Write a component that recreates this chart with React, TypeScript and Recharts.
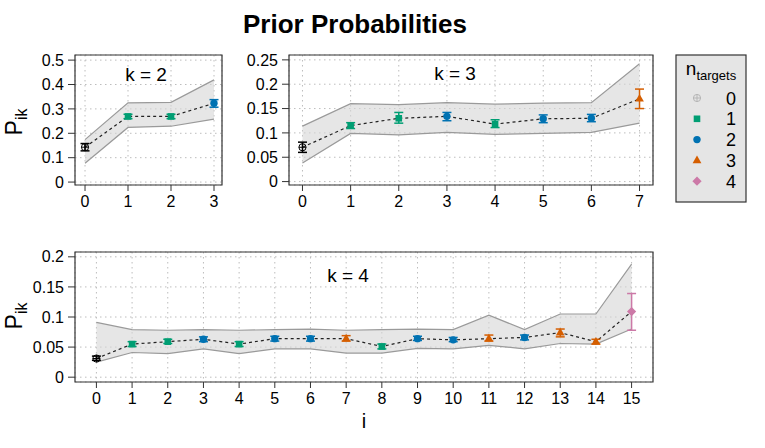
import React from "react";
import {
  ComposedChart,
  Area,
  Line,
  Scatter,
  ErrorBar,
  XAxis,
  YAxis,
  CartesianGrid,
  ReferenceArea,
} from "recharts";

const FONT = "'Liberation Sans', Arial, Helvetica, sans-serif";

// n_targets categories (legend)
const targetLabels = ["0", "1", "2", "3", "4"];
const targetColors = ["#000000", "#009E73", "#0072B2", "#D55E00", "#CC79A7"];

// k = 2
const idx2 = [0, 1, 2, 3];
const n2 = [0, 1, 1, 2];
const p2 = [0.143, 0.269, 0.269, 0.323];
const errLo2 = [0.128, 0.26, 0.26, 0.307];
const errHi2 = [0.158, 0.278, 0.278, 0.338];
const bandLo2 = [0.077, 0.224, 0.229, 0.258];
const bandHi2 = [0.174, 0.325, 0.327, 0.419];
const yTicks2 = [0, 0.1, 0.2, 0.3, 0.4, 0.5];

// k = 3
const idx3 = [0, 1, 2, 3, 4, 5, 6, 7];
const n3 = [0, 1, 1, 2, 1, 2, 2, 3];
const p3 = [0.0705, 0.115, 0.13, 0.134, 0.118, 0.129, 0.13, 0.17];
const errLo3 = [0.06, 0.109, 0.12, 0.125, 0.111, 0.121, 0.123, 0.15];
const errHi3 = [0.081, 0.121, 0.142, 0.142, 0.127, 0.137, 0.138, 0.19];
const bandLo3 = [0.038, 0.099, 0.096, 0.101, 0.097, 0.099, 0.101, 0.12];
const bandHi3 = [0.114, 0.16, 0.158, 0.162, 0.159, 0.161, 0.162, 0.242];
const yTicks3 = [0, 0.05, 0.1, 0.15, 0.2, 0.25];

// k = 4
const idx4 = [0, 1, 2, 3, 4, 5, 6, 7, 8, 9, 10, 11, 12, 13, 14, 15];
const n4 = [0, 1, 1, 2, 1, 2, 2, 3, 1, 2, 2, 3, 2, 3, 3, 4];
const p4 = [0.031, 0.055, 0.059, 0.063, 0.055, 0.064, 0.064, 0.064, 0.051, 0.064, 0.062, 0.064, 0.066, 0.074, 0.059, 0.109];
const errLo4 = [0.028, 0.051, 0.056, 0.059, 0.051, 0.06, 0.06, 0.06, 0.047, 0.061, 0.059, 0.06, 0.062, 0.067, 0.055, 0.078];
const errHi4 = [0.035, 0.059, 0.063, 0.067, 0.059, 0.068, 0.068, 0.069, 0.055, 0.068, 0.066, 0.07, 0.07, 0.08, 0.063, 0.139];
const bandLo4 = [0.025, 0.041, 0.039, 0.047, 0.039, 0.047, 0.047, 0.04, 0.04, 0.048, 0.047, 0.053, 0.047, 0.056, 0.055, 0.08];
const bandHi4 = [0.091, 0.079, 0.078, 0.079, 0.078, 0.079, 0.08, 0.078, 0.079, 0.08, 0.079, 0.103, 0.079, 0.105, 0.105, 0.188];
const yTicks4 = [0, 0.05, 0.1, 0.15, 0.2];

type Row = { i: number; n: number; p: number; err: [number, number]; band: [number, number] };

function buildRows(idx: number[], n: number[], p: number[], lo: number[], hi: number[], bLo: number[], bHi: number[]): Row[] {
  return idx.map((i, j) => ({
    i,
    n: n[j],
    p: p[j],
    err: [p[j] - lo[j], hi[j] - p[j]],
    band: [bLo[j], bHi[j]],
  }));
}

const rows2 = buildRows(idx2, n2, p2, errLo2, errHi2, bandLo2, bandHi2);
const rows3 = buildRows(idx3, n3, p3, errLo3, errHi3, bandLo3, bandHi3);
const rows4 = buildRows(idx4, n4, p4, errLo4, errHi4, bandLo4, bandHi4);

function Marker({ cx, cy, cat, color }: { cx: number; cy: number; cat: number; color: string }) {
  if (cx == null || cy == null) return null;
  switch (cat) {
    case 0:
      return (
        <g>
          <circle cx={cx} cy={cy} r={3.6} fill="none" stroke={color} strokeWidth={1} />
          <line x1={cx - 3.6} y1={cy} x2={cx + 3.6} y2={cy} stroke={color} strokeWidth={1} />
          <line x1={cx} y1={cy - 3.6} x2={cx} y2={cy + 3.6} stroke={color} strokeWidth={1} />
        </g>
      );
    case 1:
      return <rect x={cx - 3.3} y={cy - 3.3} width={6.6} height={6.6} fill={color} />;
    case 2:
      return <circle cx={cx} cy={cy} r={3.7} fill={color} />;
    case 3:
      return <polygon points={`${cx},${cy - 4.8} ${cx + 4.4},${cy + 2.8} ${cx - 4.4},${cy + 2.8}`} fill={color} />;
    default:
      return <polygon points={`${cx},${cy - 4.6} ${cx + 4.6},${cy} ${cx},${cy + 4.6} ${cx - 4.6},${cy}`} fill={color} />;
  }
}

type PanelProps = {
  rows: Row[];
  left: number;
  top: number;
  width: number;
  height: number;
  yWidth: number;
  margin: { top: number; right: number; bottom: number; left: number };
  xDomain: [number, number];
  yDomain: [number, number];
  yTicks: number[];
};

function Panel({ rows, left, top, width, height, yWidth, margin, xDomain, yDomain, yTicks }: PanelProps) {
  const tickStyle = { fontSize: 16, fill: "#000", fontFamily: FONT };
  return (
    <div style={{ position: "absolute", left, top }}>
      <ComposedChart width={width} height={height} data={rows} margin={margin}>
        <CartesianGrid stroke="#bdbdbd" strokeDasharray="1.5 3.5" />
        <XAxis
          dataKey="i"
          type="number"
          domain={xDomain}
          ticks={rows.map((r) => r.i)}
          allowDataOverflow
          interval={0}
          axisLine={false}
          tickLine={{ stroke: "#333" }}
          tickSize={6}
          tickMargin={5}
          height={30}
          tick={tickStyle}
        />
        <YAxis
          dataKey="p"
          type="number"
          domain={yDomain}
          ticks={yTicks}
          allowDataOverflow
          interval={0}
          axisLine={false}
          tickLine={{ stroke: "#333" }}
          tickSize={7}
          tickMargin={4}
          width={yWidth}
          tick={tickStyle}
          tickFormatter={(v: number) => String(v)}
        />
        <Area
          dataKey="band"
          type="linear"
          fill="#d6d6d6"
          fillOpacity={0.6}
          stroke="#9a9a9a"
          strokeWidth={1.2}
          dot={false}
          activeDot={false}
          isAnimationActive={false}
        />
        <Line
          dataKey="p"
          type="linear"
          stroke="#222"
          strokeWidth={1.2}
          strokeDasharray="3 3"
          dot={false}
          activeDot={false}
          isAnimationActive={false}
        />
        {targetLabels.map((_, c) => {
          const d = rows.filter((r) => r.n === c);
          if (!d.length) return null;
          return (
            <Scatter
              key={c}
              data={d}
              dataKey="p"
              isAnimationActive={false}
              shape={(props: any) => <Marker cx={props.cx} cy={props.cy} cat={c} color={targetColors[c]} />}
            >
              <ErrorBar dataKey="err" direction="y" width={4.5} stroke={targetColors[c]} strokeWidth={1.5} />
            </Scatter>
          );
        })}
        <ReferenceArea
          x1={xDomain[0]}
          x2={xDomain[1]}
          y1={yDomain[0]}
          y2={yDomain[1]}
          fill="none"
          stroke="#333"
          strokeWidth={1.2}
          ifOverflow="visible"
        />
      </ComposedChart>
    </div>
  );
}

function Overlay() {
  const legendY0 = 98;
  const legendStep = 20.8;
  return (
    <svg
      width={765}
      height={448}
      style={{ position: "absolute", left: 0, top: 0, pointerEvents: "none", fontFamily: FONT }}
    >
      <text x={355} y={33} textAnchor="middle" fontSize={26} fontWeight="bold" fill="#000">
        Prior Probabilities
      </text>
      <text transform="translate(22,122) rotate(-90)" textAnchor="middle" fontSize={23} fill="#000">
        P<tspan dy={5} fontSize={16}>ik</tspan>
      </text>
      <text transform="translate(22,316) rotate(-90)" textAnchor="middle" fontSize={23} fill="#000">
        P<tspan dy={5} fontSize={16}>ik</tspan>
      </text>
      <text x={146} y={81} textAnchor="middle" fontSize={19} fill="#000">k = 2</text>
      <text x={455} y={80} textAnchor="middle" fontSize={19} fill="#000">k = 3</text>
      <text x={348} y={282} textAnchor="middle" fontSize={19} fill="#000">k = 4</text>
      <text x={364} y={428} textAnchor="middle" fontSize={20} fill="#000">i</text>

      <rect x={676} y={55} width={70} height={147} fill="#e5e5e5" stroke="#333" strokeWidth={1.2} />
      <text x={711} y={75} textAnchor="middle" fontSize={19} fill="#000">
        n<tspan dy={5} fontSize={13}>targets</tspan>
      </text>
      {targetLabels.map((lab, c) => {
        const y = legendY0 + c * legendStep;
        return (
          <g key={lab}>
            <Marker cx={697} cy={y} cat={c} color={c === 0 ? "#b5b5b5" : targetColors[c]} />
            <text x={731} y={y + 6.5} textAnchor="middle" fontSize={18} fill="#000">
              {lab}
            </text>
          </g>
        );
      })}
    </svg>
  );
}

export default function App() {
  return (
    <div style={{ position: "absolute", left: 0, top: 0, width: 765, height: 448, background: "#fff", fontFamily: FONT }}>
      <Panel
        rows={rows2}
        left={0}
        top={0}
        width={240}
        height={220}
        yWidth={75}
        margin={{ top: 55, right: 18, bottom: 5, left: 0 }}
        xDomain={[-0.233, 3.186]}
        yDomain={[-0.012, 0.521]}
        yTicks={yTicks2}
      />
      <Panel
        rows={rows3}
        left={230}
        top={0}
        width={440}
        height={220}
        yWidth={59}
        margin={{ top: 55, right: 17, bottom: 5, left: 0 }}
        xDomain={[-0.28, 7.28]}
        yDomain={[-0.007, 0.26]}
        yTicks={yTicks3}
      />
      <Panel
        rows={rows4}
        left={0}
        top={200}
        width={670}
        height={240}
        yWidth={75}
        margin={{ top: 52, right: 17, bottom: 28, left: 0 }}
        xDomain={[-0.6, 15.6]}
        yDomain={[-0.008, 0.208]}
        yTicks={yTicks4}
      />
      <Overlay />
    </div>
  );
}
